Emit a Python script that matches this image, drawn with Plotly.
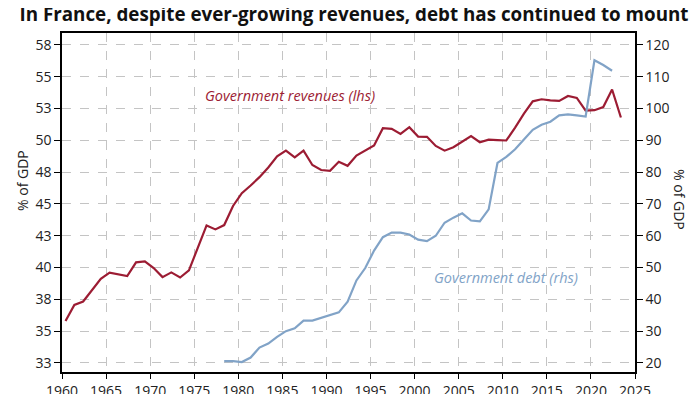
import plotly.graph_objects as go

# ---- data ----
rev_years = list(range(1960, 2024))
revenues = [35.8, 37.06, 37.33, 38.22, 39.12, 39.6, 39.44, 39.33, 40.41, 40.49,
            39.96, 39.25, 39.62, 39.22, 39.78, 41.54, 43.31, 43.0, 43.34, 44.84,
            45.85, 46.45, 47.11, 47.87, 48.74, 49.19, 48.66, 49.19, 48.06, 47.67,
            47.61, 48.32, 48.0, 48.8, 49.17, 49.59, 50.96, 50.91, 50.51, 51.04,
            50.3, 50.28, 49.56, 49.19, 49.46, 49.89, 50.33, 49.85, 50.05, 50.02,
            49.99, 51.0, 52.1, 53.07, 53.23, 53.15, 53.1, 53.49, 53.34, 52.33,
            52.37, 52.62, 54.0, 51.8]

debt_years = list(range(1978, 2023))
debt = [20.6, 20.6, 20.3, 21.7, 24.85, 26.1, 28.2, 30.0, 30.9, 33.3,
        33.3, 34.2, 35.1, 35.9, 39.3, 45.95, 49.85, 55.35, 59.56, 61.0,
        61.0, 60.4, 58.8, 58.3, 60.0, 64.1, 65.7, 67.05, 64.8, 64.5,
        68.3, 82.9, 84.8, 87.2, 90.25, 93.3, 94.9, 95.85, 97.85, 98.16,
        97.85, 97.5, 115.2, 113.7, 111.9]

x_ticks = list(range(1960, 2030, 5))
left_tickvals = [32.5 + 2.5 * i for i in range(11)]
left_ticktext = ["33", "35", "38", "40", "43", "45", "48", "50", "53", "55", "58"]
right_tickvals = list(range(20, 130, 10))

TITLE = "In France, despite ever-growing revenues, debt has continued to mount"

# annual values drawn slightly past the year mark (mid-year), as in the source
MID = 0.4

RED = "#9c1c33"
BLUE = "#81a3c7"
GRID = "#c4c4c4"
TXT = "#222222"
FONT = "Open Sans"

# the page body adds an 8px offset; the figure is sized to fill the rest of the window
OFF = 8
W, H = 700 - OFF, 394 - OFF
L, R, T, B = 62 - OFF, 65, 33 - OFF, 22

left_range = [31.79, 58.44]
right_range = [20 + (left_range[0] - 32.5) * 4, 20 + (left_range[1] - 32.5) * 4]

fig = go.Figure()
fig.add_trace(go.Scatter(x=[y + MID for y in rev_years], y=revenues, mode="lines",
                         line=dict(color=RED, width=2.2), yaxis="y", hoverinfo="skip"))
fig.add_trace(go.Scatter(x=[y + MID for y in debt_years], y=debt, mode="lines",
                         line=dict(color=BLUE, width=2.2), yaxis="y2", hoverinfo="skip"))

fig.update_layout(
    width=W, height=H, autosize=False,
    margin=dict(l=L, r=R, t=T, b=B, pad=0, autoexpand=False),
    paper_bgcolor="white", plot_bgcolor="white",
    showlegend=False,
    font=dict(family=FONT, size=14, color=TXT),
    title=dict(text="<b>" + TITLE + "</b>", x=(354 - OFF) / W, xref="container",
               xanchor="center", y=1 - (14.5 - OFF) / H, yref="container",
               yanchor="middle", automargin=False,
               font=dict(family=FONT, size=18.8, color="#111111")),
    xaxis=dict(range=[1960, 2025], tickvals=x_ticks, showgrid=True, gridcolor=GRID,
               griddash="dash", gridwidth=1, showline=True, linecolor="black", linewidth=1.5,
               mirror=True, ticks="outside", ticklen=5, tickcolor="black", automargin=False,
               tickfont=dict(size=14, color=TXT), zeroline=False),
    yaxis=dict(range=left_range, tickvals=left_tickvals, ticktext=left_ticktext,
               showgrid=True, gridcolor=GRID, griddash="dash", gridwidth=1, automargin=False,
               showline=True, linecolor="black", linewidth=1.5, ticks="outside",
               ticklen=6, tickcolor="black", tickfont=dict(size=14, color=TXT),
               zeroline=False),
    yaxis2=dict(range=right_range, tickvals=right_tickvals, overlaying="y", side="right",
                showgrid=False, showline=True, linecolor="black", linewidth=1.5,
                ticks="outside", ticklen=6, tickcolor="black", automargin=False,
                tickfont=dict(size=14, color=TXT), zeroline=False),
)

fig.add_annotation(text="<i>Government revenues (lhs)</i>", x=1975.95, y=53.5,
                   xref="x", yref="y", xanchor="left", yanchor="middle", showarrow=False,
                   font=dict(family=FONT, size=14.5, color=RED))
fig.add_annotation(text="<i>Government debt (rhs)</i>", x=2002.0, y=39.24,
                   xref="x", yref="y", xanchor="left", yanchor="middle", showarrow=False,
                   font=dict(family=FONT, size=14.5, color=BLUE))

# axis titles placed by window-pixel position, converted to paper fractions
pw, ph = W - L - R, H - T - B
for txt, px, py, ang in [("% of GDP", 23, 181, -90), ("% of GDP", 680, 199, 90)]:
    fig.add_annotation(text=txt, x=(px - OFF - L) / pw, y=1 - (py - OFF - T) / ph,
                       xref="paper", yref="paper", xanchor="center", yanchor="middle",
                       showarrow=False, textangle=ang,
                       font=dict(family=FONT, size=14, color=TXT))

fig.write_html("out.html")
